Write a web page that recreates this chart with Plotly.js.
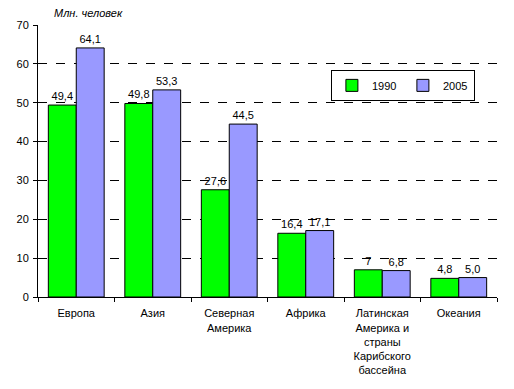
<!DOCTYPE html>
<html>
<head>
<meta charset="utf-8">
<script src="https://cdn.plot.ly/plotly-3.0.1.min.js"></script>
<style>html,body{margin:0;padding:0;background:#fff;}#chart{width:514px;height:389px;}</style>
</head>
<body>
<div id="chart"></div>
<script>
const categories = ["Европа", "Азия", "Северная<br>Америка", "Африка", "Латинская<br>Америка и<br>страны<br>Карибского<br>бассейна", "Океания"];
const values1990 = [49.4, 49.8, 27.6, 16.4, 7, 4.8];
const values2005 = [64.1, 53.3, 44.5, 17.1, 6.8, 5.0];
const labels1990 = ["49,4", "49,8", "27,6", "16,4", "7", "4,8"];
const labels2005 = ["64,1", "53,3", "44,5", "17,1", "6,8", "5,0"];
const yTicks = [0, 10, 20, 30, 40, 50, 60, 70];

const font = {family: "Arial, 'Liberation Sans', sans-serif", size: 11, color: "#000"};

const traces = [
  {type: "bar", name: "1990", x: categories, y: values1990, text: labels1990,
   textposition: "outside", textfont: font, cliponaxis: false,
   marker: {color: "#00FF00", line: {color: "#000", width: 1}}},
  {type: "bar", name: "2005", x: categories, y: values2005, text: labels2005,
   textposition: "outside", textfont: font, cliponaxis: false,
   marker: {color: "#9999FF", line: {color: "#000", width: 1}}}
];

const layout = {
  width: 514, height: 389,
  margin: {l: 38, r: 17, t: 25, b: 92},
  paper_bgcolor: "#fff", plot_bgcolor: "#fff",
  font: font,
  bargap: 0.27, bargroupgap: 0,
  showlegend: true,
  legend: {orientation: "h", x: 0.795, y: 0.835, xanchor: "center", yanchor: "top",
           bordercolor: "#000", borderwidth: 1, bgcolor: "#fff",
           font: font, itemwidth: 30, entrywidth: 26, tracegroupgap: 0},
  xaxis: {showline: true, linecolor: "#000", linewidth: 1, ticks: "outside",
          tickson: "boundaries", ticklen: 4, tickcolor: "#000", showgrid: false,
          tickangle: 0, tickfont: font, automargin: false, ticklabelstandoff: 6},
  yaxis: {range: [0, 70], tickvals: yTicks, showline: true, linecolor: "#000", linewidth: 1,
          ticks: "outside", ticklen: 4, tickcolor: "#000",
          showgrid: true, gridcolor: "#000", gridwidth: 1, griddash: "dash",
          zeroline: false, tickfont: font, automargin: false, ticklabelstandoff: 2},
  annotations: [{text: "<i>Млн. человек</i>", xref: "paper", yref: "paper",
                 x: 0.03, y: 1.0, xanchor: "left", yanchor: "bottom", yshift: 4,
                 showarrow: false, font: font}]
};

Plotly.newPlot("chart", traces, layout, {staticPlot: true, displayModeBar: false});
</script>
</body>
</html>
